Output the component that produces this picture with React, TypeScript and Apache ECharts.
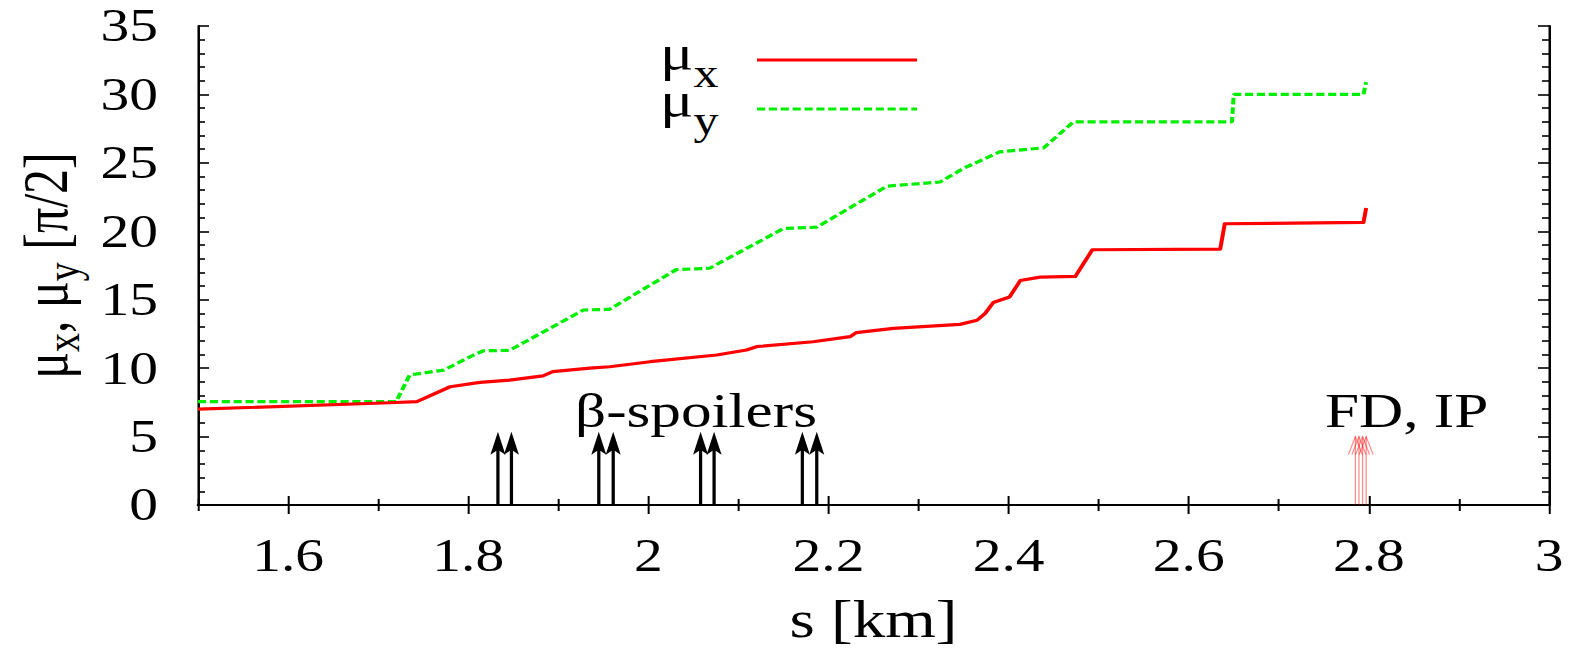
import React, { useEffect, useRef } from "react";
import * as echarts from "echarts";

// ---- data ----
const MUX_S = [1.5, 1.713, 1.743, 1.78, 1.813, 1.846, 1.883, 1.894, 1.935, 1.957, 2.002, 2.076, 2.109, 2.12, 2.183, 2.224, 2.231, 2.272, 2.346, 2.365, 2.374, 2.383, 2.401, 2.413, 2.435, 2.474, 2.493, 2.635, 2.64, 2.794, 2.797];
const MUX_V = [7.0, 7.47, 7.55, 8.64, 8.96, 9.13, 9.43, 9.74, 10.0, 10.1, 10.47, 10.96, 11.33, 11.57, 11.93, 12.3, 12.6, 12.9, 13.2, 13.5, 14.0, 14.8, 15.2, 16.4, 16.65, 16.7, 18.65, 18.7, 20.55, 20.65, 21.7];
const MUY_S = [1.5, 1.72, 1.735, 1.773, 1.806, 1.817, 1.846, 1.928, 1.957, 2.031, 2.068, 2.15, 2.187, 2.265, 2.324, 2.35, 2.39, 2.439, 2.472, 2.648, 2.65, 2.794, 2.797];
const MUY_V = [7.55, 7.55, 9.5, 9.86, 10.96, 11.27, 11.3, 14.25, 14.3, 17.2, 17.3, 20.2, 20.3, 23.3, 23.6, 24.6, 25.8, 26.1, 28.0, 28.0, 30.0, 30.0, 30.9];
const BETA_SPOILER_S = [1.833, 1.848, 1.945, 1.961, 2.058, 2.073, 2.171, 2.187];
const BETA_SPOILER_TIP = 5.35;
const FD_IP_S = [2.785, 2.789, 2.793, 2.797];
const FD_IP_TIP = 5.0;
const X_MAJOR = [1.6, 1.8, 2.0, 2.2, 2.4, 2.6, 2.8, 3.0];
const X_MINOR = [1.5, 1.7, 1.9, 2.1, 2.3, 2.5, 2.7, 2.9];
const Y_MINOR = [1, 2, 3, 4, 6, 7, 8, 9, 11, 12, 13, 14, 16, 17, 18, 19, 21, 22, 23, 24, 26, 27, 28, 29, 31, 32, 33, 34];
const X_NAME = "s [km]";
const Y_NAME = "{m|μ}{s|x}{m|, μ}{s|y}{m| [π/2]}";
const SERIES_X = "μx";
const SERIES_Y = "μy";
const LEGEND_X = "{m|μ}{s|x}";
const LEGEND_Y = "{m|μ}{s|y}";

const W = 1576;
const H = 655;
const CW = 1261;
const K = W / CW;
const FONT = "Liberation Serif, Times New Roman, Times, serif";

export default function App() {
  const ref = useRef<HTMLDivElement>(null);
  useEffect(() => {
    if (!ref.current) return;
    const chart = echarts.init(ref.current, undefined, { renderer: "svg" });
    const axisLine = { show: true, lineStyle: { color: "#000", width: 2 } };
    const tickStyle = { color: "#000", width: 1.6 };
    const xBase = { type: "value", min: 1.5, max: 3, gridIndex: 0, splitLine: { show: false } };
    const yBase = { type: "value", min: 0, max: 35, interval: 5, gridIndex: 0, splitLine: { show: false } };
    const xy = (s: number[], v: number[]) => s.map((x, i) => [x, v[i]]);
    const legendRich = {
      m: { fontSize: 50, fontFamily: FONT, fill: "#000", color: "#000" },
      s: { fontSize: 40, fontFamily: FONT, fill: "#000", color: "#000", padding: [41, 0, 0, 0] },
    };

    const blackArrow = (params: any, api: any) => {
      const base = api.coord([api.value(0), 0]);
      const tip = api.coord([api.value(0), api.value(1)]);
      return {
        type: "group",
        children: [
          { type: "line", shape: { x1: base[0], y1: base[1], x2: tip[0], y2: tip[1] + 16 }, style: { stroke: "#000", lineWidth: 2.6 } },
          { type: "polygon", shape: { points: [[tip[0], tip[1]], [tip[0] - 6, tip[1] + 23], [tip[0], tip[1] + 18], [tip[0] + 6, tip[1] + 23]] }, style: { fill: "#000" } },
        ],
      };
    };
    const redArrow = (params: any, api: any) => {
      const base = api.coord([api.value(0), 0]);
      const tip = api.coord([api.value(0), api.value(1)]);
      const st = { stroke: "rgba(255,0,0,0.45)", lineWidth: 1 };
      return {
        type: "group",
        children: [
          { type: "line", shape: { x1: base[0], y1: base[1], x2: tip[0], y2: tip[1] }, style: st },
          { type: "polyline", shape: { points: [[tip[0] - 5.6, tip[1] + 18], [tip[0], tip[1]], [tip[0] + 5.6, tip[1] + 18]] }, style: { ...st, fill: null } },
        ],
      };
    };

    chart.setOption({
      animation: false,
      backgroundColor: "#fff",
      grid: { left: 198 / K, right: CW - 1549 / K, top: 26, bottom: H - 505, containLabel: false },
      xAxis: [
        {
          ...xBase, position: "bottom", axisLine,
          axisTick: { show: true, inside: true, length: 9, customValues: X_MAJOR, lineStyle: tickStyle },
          axisLabel: { show: true, customValues: X_MAJOR, fontSize: 46, fontFamily: FONT, color: "#000", margin: 28, formatter: (v: number) => String(Math.round(v * 10) / 10) },
          name: X_NAME, nameLocation: "middle", nameGap: 89,
          nameTextStyle: { fontSize: 52, fontFamily: FONT, color: "#000" },
        },
        { ...xBase, position: "bottom", axisLine: { show: false }, axisTick: { show: true, inside: true, length: 6, customValues: X_MINOR, lineStyle: tickStyle }, axisLabel: { show: false } },
        { ...xBase, position: "top", axisLine, axisTick: { show: true, inside: true, length: 9, customValues: X_MAJOR, lineStyle: tickStyle }, axisLabel: { show: false } },
        { ...xBase, position: "top", axisLine: { show: false }, axisTick: { show: true, inside: true, length: 6, customValues: X_MINOR, lineStyle: tickStyle }, axisLabel: { show: false } },
      ],
      yAxis: [
        {
          ...yBase, position: "left", axisLine,
          axisTick: { show: true, inside: true, length: 8.8, lineStyle: tickStyle },
          axisLabel: { show: true, fontSize: 46, fontFamily: FONT, color: "#000", margin: 32 },
          name: Y_NAME, nameLocation: "middle", nameRotate: 90, nameGap: 86,
          nameTextStyle: {
            fontSize: 50, fontFamily: FONT, color: "#000",
            rich: {
              m: { fontSize: 50, fontFamily: FONT, color: "#000" },
              s: { fontSize: 38, fontFamily: FONT, color: "#000", padding: [28, 0, 0, 0] },
            },
          },
        },
        { ...yBase, position: "left", axisLine: { show: false }, axisTick: { show: true, inside: true, length: 5.6, customValues: Y_MINOR, lineStyle: tickStyle }, axisLabel: { show: false } },
        { ...yBase, position: "right", axisLine, axisTick: { show: true, inside: true, length: 8.8, lineStyle: tickStyle }, axisLabel: { show: false } },
        { ...yBase, position: "right", axisLine: { show: false }, axisTick: { show: true, inside: true, length: 5.6, customValues: Y_MINOR, lineStyle: tickStyle }, axisLabel: { show: false } },
      ],
      series: [
        {
          name: SERIES_X, type: "line", xAxisIndex: 0, yAxisIndex: 0, data: xy(MUX_S, MUX_V),
          showSymbol: false, symbol: "none", lineStyle: { color: "#ff0000", width: 3.2, join: "round" }, z: 4,
        },
        {
          name: SERIES_Y, type: "line", xAxisIndex: 0, yAxisIndex: 0, data: xy(MUY_S, MUY_V),
          showSymbol: false, symbol: "none", lineStyle: { color: "#00ee00", width: 3.2, type: [6.5, 3] }, z: 3,
        },
        {
          name: "β-spoilers", type: "custom", xAxisIndex: 0, yAxisIndex: 0, silent: true, clip: false,
          data: BETA_SPOILER_S.map((s) => [s, BETA_SPOILER_TIP]), encode: { x: 0, y: 1 }, renderItem: blackArrow, z: 5,
        },
        {
          name: "FD, IP", type: "custom", xAxisIndex: 0, yAxisIndex: 0, silent: true, clip: false,
          data: FD_IP_S.map((s) => [s, FD_IP_TIP]), encode: { x: 0, y: 1 }, renderItem: redArrow, z: 5,
        },
      ],
      graphic: [
        { type: "text", x: 575 / K, y: 427 - 16.5, style: { text: "β-spoilers", fontSize: 49, fontFamily: FONT, fill: "#000", align: "left", verticalAlign: "middle" } },
        { type: "text", x: 1325 / K, y: 427 - 16.5, style: { text: "FD, IP", fontSize: 49, fontFamily: FONT, fill: "#000", align: "left", verticalAlign: "middle" } },
        { type: "text", x: 660 / K, y: 53, style: { text: LEGEND_X, rich: legendRich, fontSize: 50, fontFamily: FONT, fill: "#000", align: "left", verticalAlign: "middle" } },
        { type: "line", shape: { x1: 757 / K, y1: 60, x2: 917 / K, y2: 60 }, style: { stroke: "#ff0000", lineWidth: 3.2 } },
        { type: "text", x: 660 / K, y: 100.6, style: { text: LEGEND_Y, rich: legendRich, fontSize: 50, fontFamily: FONT, fill: "#000", align: "left", verticalAlign: "middle" } },
        { type: "line", shape: { x1: 757 / K, y1: 109, x2: 917 / K, y2: 109 }, style: { stroke: "#00ee00", lineWidth: 3.2, lineDash: [6.5, 3] } },
      ],
    });
    return () => chart.dispose();
  }, []);

  return (
    <div style={{ position: "fixed", left: 0, top: 0, width: W, height: H, overflow: "hidden", background: "#fff" }}>
      <div
        ref={ref}
        style={{ width: CW, height: H, transform: `scaleX(${K})`, transformOrigin: "0 0" }}
      />
    </div>
  );
}
